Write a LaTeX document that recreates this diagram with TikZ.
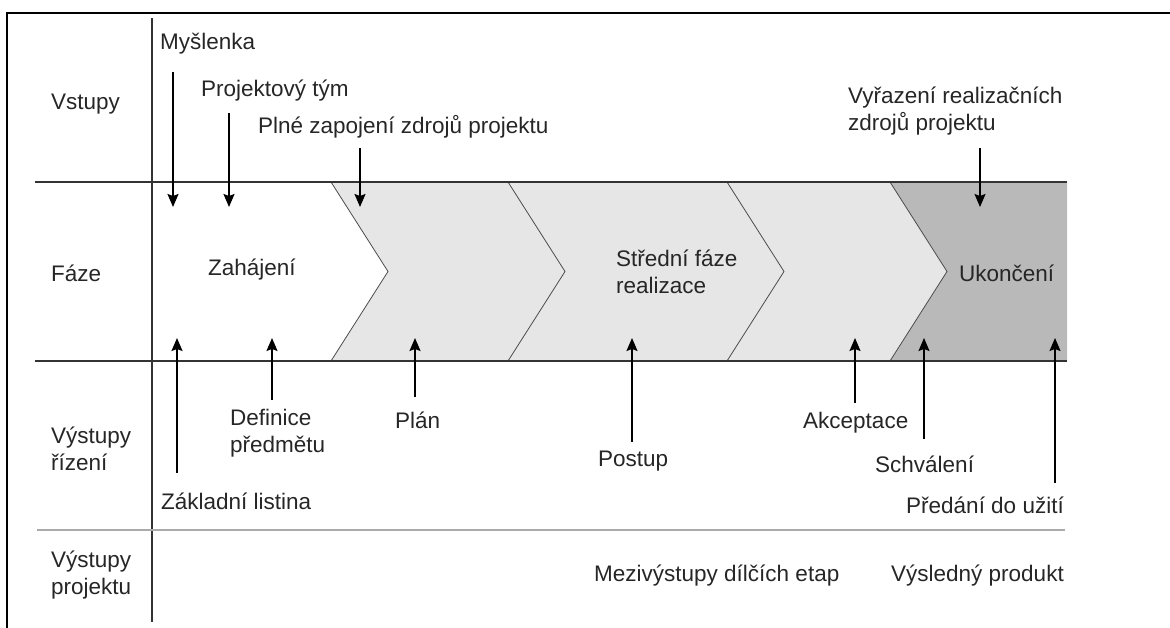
\documentclass[tikz,border=0pt]{standalone}
\usepackage{fontspec}
\setmainfont{Liberation Sans}
\usetikzlibrary{arrows.meta}
\definecolor{phaselight}{HTML}{E6E6E6}
\definecolor{phasedark}{HTML}{B9B9B9}
\definecolor{bandline}{HTML}{333333}
\definecolor{rulegray}{HTML}{AAAAAA}

\begin{document}
\begin{tikzpicture}[x=1pt, y=-1pt,
		font=\fontsize{22.5}{26.5}\selectfont,
		lbl/.style={anchor=west, inner sep=0pt, align=left, text=black!85},
		arr/.style={line width=1.6pt, -{Stealth[length=13pt, width=11pt, inset=2pt]}}]
		\useasboundingbox (0,0) rectangle (1170,628);
		
		% phases
		\fill[phaselight] (331,182) -- (890,182) -- (947,271.5) -- (890,361) -- (331,361) -- (388,271.5) -- cycle;
		\fill[phasedark] (890,182) -- (1067,182) -- (1067,361) -- (890,361) -- (947,271.5) -- cycle;
		\foreach \t in {331,508,727,890}
			\draw[line width=0.8pt, black!70] (\t,182) -- (\t+57,271.5) -- (\t,361);
		
		% frame and rows
		\draw[line width=2.5pt] (7,628) -- (7,13) -- (1170,13);
		\draw[line width=1.2pt, bandline] (152,18) -- (152,622);
		\draw[line width=1.8pt, bandline] (35,182) -- (1067,182);
		\draw[line width=1.8pt, bandline] (35,361) -- (1067,361);
		\draw[line width=2pt, rulegray] (37,530) -- (1065,530);
		
		\coordinate (inTop) at (0,207);
		\coordinate (outBot) at (0,338);
		
		% row titles
		\node[lbl] (vstupy) at (51,104) {Vstupy};
		\node[lbl] (faze) at (51,273) {Fáze};
		\node[lbl] (rizeni) at (51,449) {Výstupy\\řízení};
		\node[lbl] (projekt) at (51,575) {Výstupy\\projektu};
		
		% phase names
		\node[lbl] (zahajeni) at (208,270) {Zahájení};
		\node[lbl] (stredni) at (616,272) {Střední fáze\\realizace};
		\node[lbl] (ukonceni) at (959,273) {Ukončení};
		
		% inputs
		\node[lbl] (myslenka) at (160,44) {Myšlenka};
		\node[lbl] (tym) at (201,91) {Projektový tým};
		\node[lbl] (zdroje) at (258,127) {Plné zapojení zdrojů projektu};
		\node[lbl] (vyrazeni) at (848,111) {Vyřazení realizačních\\zdrojů projektu};
		
		\foreach \x/\y [count=\i] in {173/72, 229/113, 360/148, 980/148} {
			\coordinate (in\i) at (\x,\y);
			\draw[arr] (in\i) -- (in\i |- inTop);
		}
		
		% management outputs
		\node[lbl] (listina) at (161,501) {Základní listina};
		\node[lbl] (definice) at (230,433) {Definice\\předmětu};
		\node[lbl] (plan) at (395,420) {Plán};
		\node[lbl] (postup) at (598,461) {Postup};
		\node[lbl] (akceptace) at (803,423) {Akceptace};
		\node[lbl] (schvaleni) at (875,464) {Schválení};
		\node[lbl] (predani) at (906,505) {Předání do užití};
		
		\foreach \x/\y [count=\i] in {177/473, 272/400, 415/397, 632/442, 855/403, 924/439, 1055/483} {
			\coordinate (out\i) at (\x,\y);
			\draw[arr] (out\i) -- (out\i |- outBot);
		}
		
		% project outputs
		\node[lbl] (mezi) at (594,576) {Mezivýstupy dílčích etap};
		\node[lbl] (produkt) at (891,576) {Výsledný produkt};
	\end{tikzpicture}
\end{document}
